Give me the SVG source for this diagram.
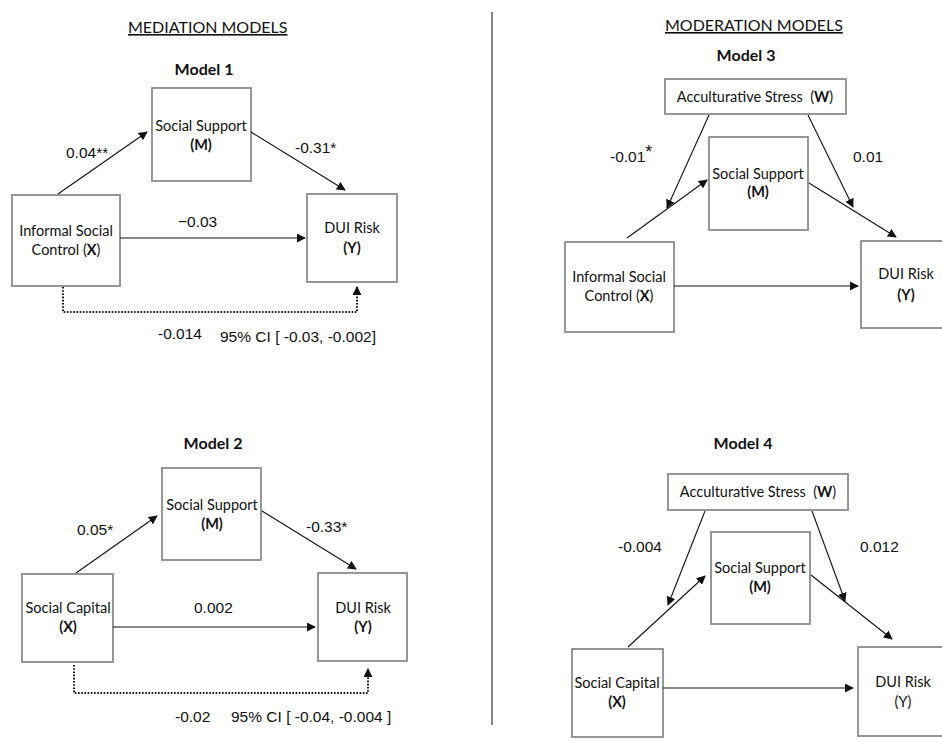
<svg xmlns="http://www.w3.org/2000/svg" width="942" height="742" viewBox="0 0 942 742">
<style>
.box{fill:#fff;stroke:#8c8c8c;stroke-width:1.8}
.lbl{font-family:Lato,"Open Sans","Liberation Sans",sans-serif;font-size:14.5px;fill:#111;text-anchor:middle}
.b{font-weight:bold}
.num{font-family:"Liberation Sans",Arial,sans-serif;font-size:15.5px;fill:#111}
.ttl{font-family:Lato,"Open Sans","Liberation Sans",sans-serif;font-size:16px;fill:#111;text-decoration:underline}
.mdl{font-family:Lato,"Open Sans","Liberation Sans",sans-serif;font-size:16px;font-weight:bold;fill:#111;text-anchor:middle}
.ar{fill:none;stroke:#111;stroke-width:1.1;marker-end:url(#ah)}
.dot{fill:none;stroke:#111;stroke-width:2;stroke-dasharray:1.6 1.6;marker-end:url(#ah)}
</style>
<defs>
<marker id="ah" viewBox="0 0 10 10" refX="9" refY="5" markerWidth="9" markerHeight="9" markerUnits="userSpaceOnUse" orient="auto">
<path d="M0,0 L10,5 L0,10 z" fill="#111"/>
</marker>
</defs>
<rect width="942" height="742" fill="#fff"/>

<!-- headings -->
<text class="ttl" x="128" y="33">MEDIATION MODELS</text>
<text class="ttl" x="665" y="31">MODERATION MODELS</text>
<line x1="492" y1="12" x2="492" y2="725" stroke="#333" stroke-width="1.2"/>
<text class="mdl" x="204" y="75">Model 1</text>
<text class="mdl" x="213" y="449">Model 2</text>
<text class="mdl" x="746" y="61">Model 3</text>
<text class="mdl" x="743" y="449">Model 4</text>

<!-- Model 1 nodes -->
<g id="m1-M"><rect class="box" x="152" y="88" width="99" height="93"/><text class="lbl" x="201" y="131">Social Support</text><text class="lbl b" x="201" y="150">(M)</text></g>
<g id="m1-X"><rect class="box" x="12" y="195" width="108" height="91"/><text class="lbl" x="66" y="236">Informal Social</text><text class="lbl" x="66" y="255">Control (<tspan class="b">X</tspan>)</text></g>
<g id="m1-Y"><rect class="box" x="307" y="194" width="90" height="88"/><text class="lbl" x="352" y="233">DUI Risk</text><text class="lbl b" x="352" y="253">(Y)</text></g>

<!-- Model 2 nodes -->
<g id="m2-M"><rect class="box" x="162" y="468" width="99" height="92"/><text class="lbl" x="212" y="510">Social Support</text><text class="lbl b" x="212" y="529">(M)</text></g>
<g id="m2-X"><rect class="box" x="22" y="574" width="91" height="88"/><text class="lbl" x="68" y="613">Social Capital</text><text class="lbl b" x="68" y="632">(X)</text></g>
<g id="m2-Y"><rect class="box" x="318" y="573" width="89" height="88"/><text class="lbl" x="363" y="613">DUI Risk</text><text class="lbl b" x="363" y="632">(Y)</text></g>

<!-- Model 3 nodes -->
<g id="m3-W"><rect class="box" x="665" y="79" width="181" height="35"/><text class="lbl" x="755" y="102">Acculturative Stress&#160; (<tspan class="b">W</tspan>)</text></g>
<g id="m3-M"><rect class="box" x="709" y="137" width="99" height="93"/><text class="lbl" x="758" y="179">Social Support</text><text class="lbl b" x="758" y="197">(M)</text></g>
<g id="m3-X"><rect class="box" x="565" y="242" width="109" height="90"/><text class="lbl" x="619" y="282">Informal Social</text><text class="lbl" x="619" y="301">Control (<tspan class="b">X</tspan>)</text></g>
<g id="m3-Y"><rect class="box" x="861" y="241" width="90" height="87"/><text class="lbl" x="906" y="279">DUI Risk</text><text class="lbl b" x="906" y="300">(Y)</text></g>

<!-- Model 4 nodes -->
<g id="m4-W"><rect class="box" x="668" y="474" width="180" height="36"/><text class="lbl" x="758" y="497">Acculturative Stress&#160; (<tspan class="b">W</tspan>)</text></g>
<g id="m4-M"><rect class="box" x="711" y="532" width="99" height="92"/><text class="lbl" x="760" y="573">Social Support</text><text class="lbl b" x="760" y="592">(M)</text></g>
<g id="m4-X"><rect class="box" x="572" y="649" width="91" height="88"/><text class="lbl" x="617" y="688">Social Capital</text><text class="lbl b" x="617" y="707">(X)</text></g>
<g id="m4-Y"><rect class="box" x="858" y="647" width="90" height="89"/><text class="lbl" x="903" y="687">DUI Risk</text><text class="lbl" x="903" y="707">(Y)</text></g>

<!-- connectors -->
<g id="connectors">
<line class="ar" x1="58" y1="194" x2="147" y2="132"/>
<line class="ar" x1="251" y1="132" x2="345" y2="190"/>
<line class="ar" x1="120" y1="238" x2="305" y2="238"/>
<polyline class="dot" points="63,287 63,312 357,312 357,287"/>

<line class="ar" x1="76" y1="573" x2="157" y2="516"/>
<line class="ar" x1="262" y1="511" x2="356" y2="569"/>
<line class="ar" x1="113" y1="627" x2="315" y2="627"/>
<polyline class="dot" points="74,665 74,693 368,693 368,669"/>

<line class="ar" x1="709" y1="115" x2="667" y2="208"/>
<line class="ar" x1="627" y1="238" x2="707" y2="180"/>
<line class="ar" x1="808" y1="115" x2="853" y2="207"/>
<line class="ar" x1="809" y1="183" x2="896" y2="237"/>
<line class="ar" x1="674" y1="286" x2="858" y2="286"/>

<line class="ar" x1="705" y1="511" x2="668" y2="605"/>
<line class="ar" x1="628" y1="647" x2="705" y2="576"/>
<line class="ar" x1="812" y1="511" x2="845" y2="601"/>
<line class="ar" x1="811" y1="575" x2="892" y2="639"/>
<line class="ar" x1="663" y1="688" x2="853" y2="688"/>
</g>

<!-- edge labels -->
<text class="num" x="66" y="158">0.04**</text>
<text class="num" x="295" y="153">-0.31*</text>
<text class="num" x="178" y="227">−0.03</text>
<text class="num" x="158" y="339">-0.014</text>
<text class="num" x="220" y="342">95% CI [ -0.03, -0.002]</text>

<text class="num" x="77" y="535">0.05*</text>
<text class="num" x="306" y="532">-0.33*</text>
<text class="num" x="194" y="613">0.002</text>
<text class="num" x="175" y="722">-0.02</text>
<text class="num" x="231" y="722">95% CI [ -0.04, -0.004 ]</text>

<text class="num" x="610" y="162">-0.01<tspan font-size="18" dy="-4">*</tspan></text>
<text class="num" x="853" y="162">0.01</text>
<text class="num" x="618" y="552">-0.004</text>
<text class="num" x="860" y="552">0.012</text>
</svg>
